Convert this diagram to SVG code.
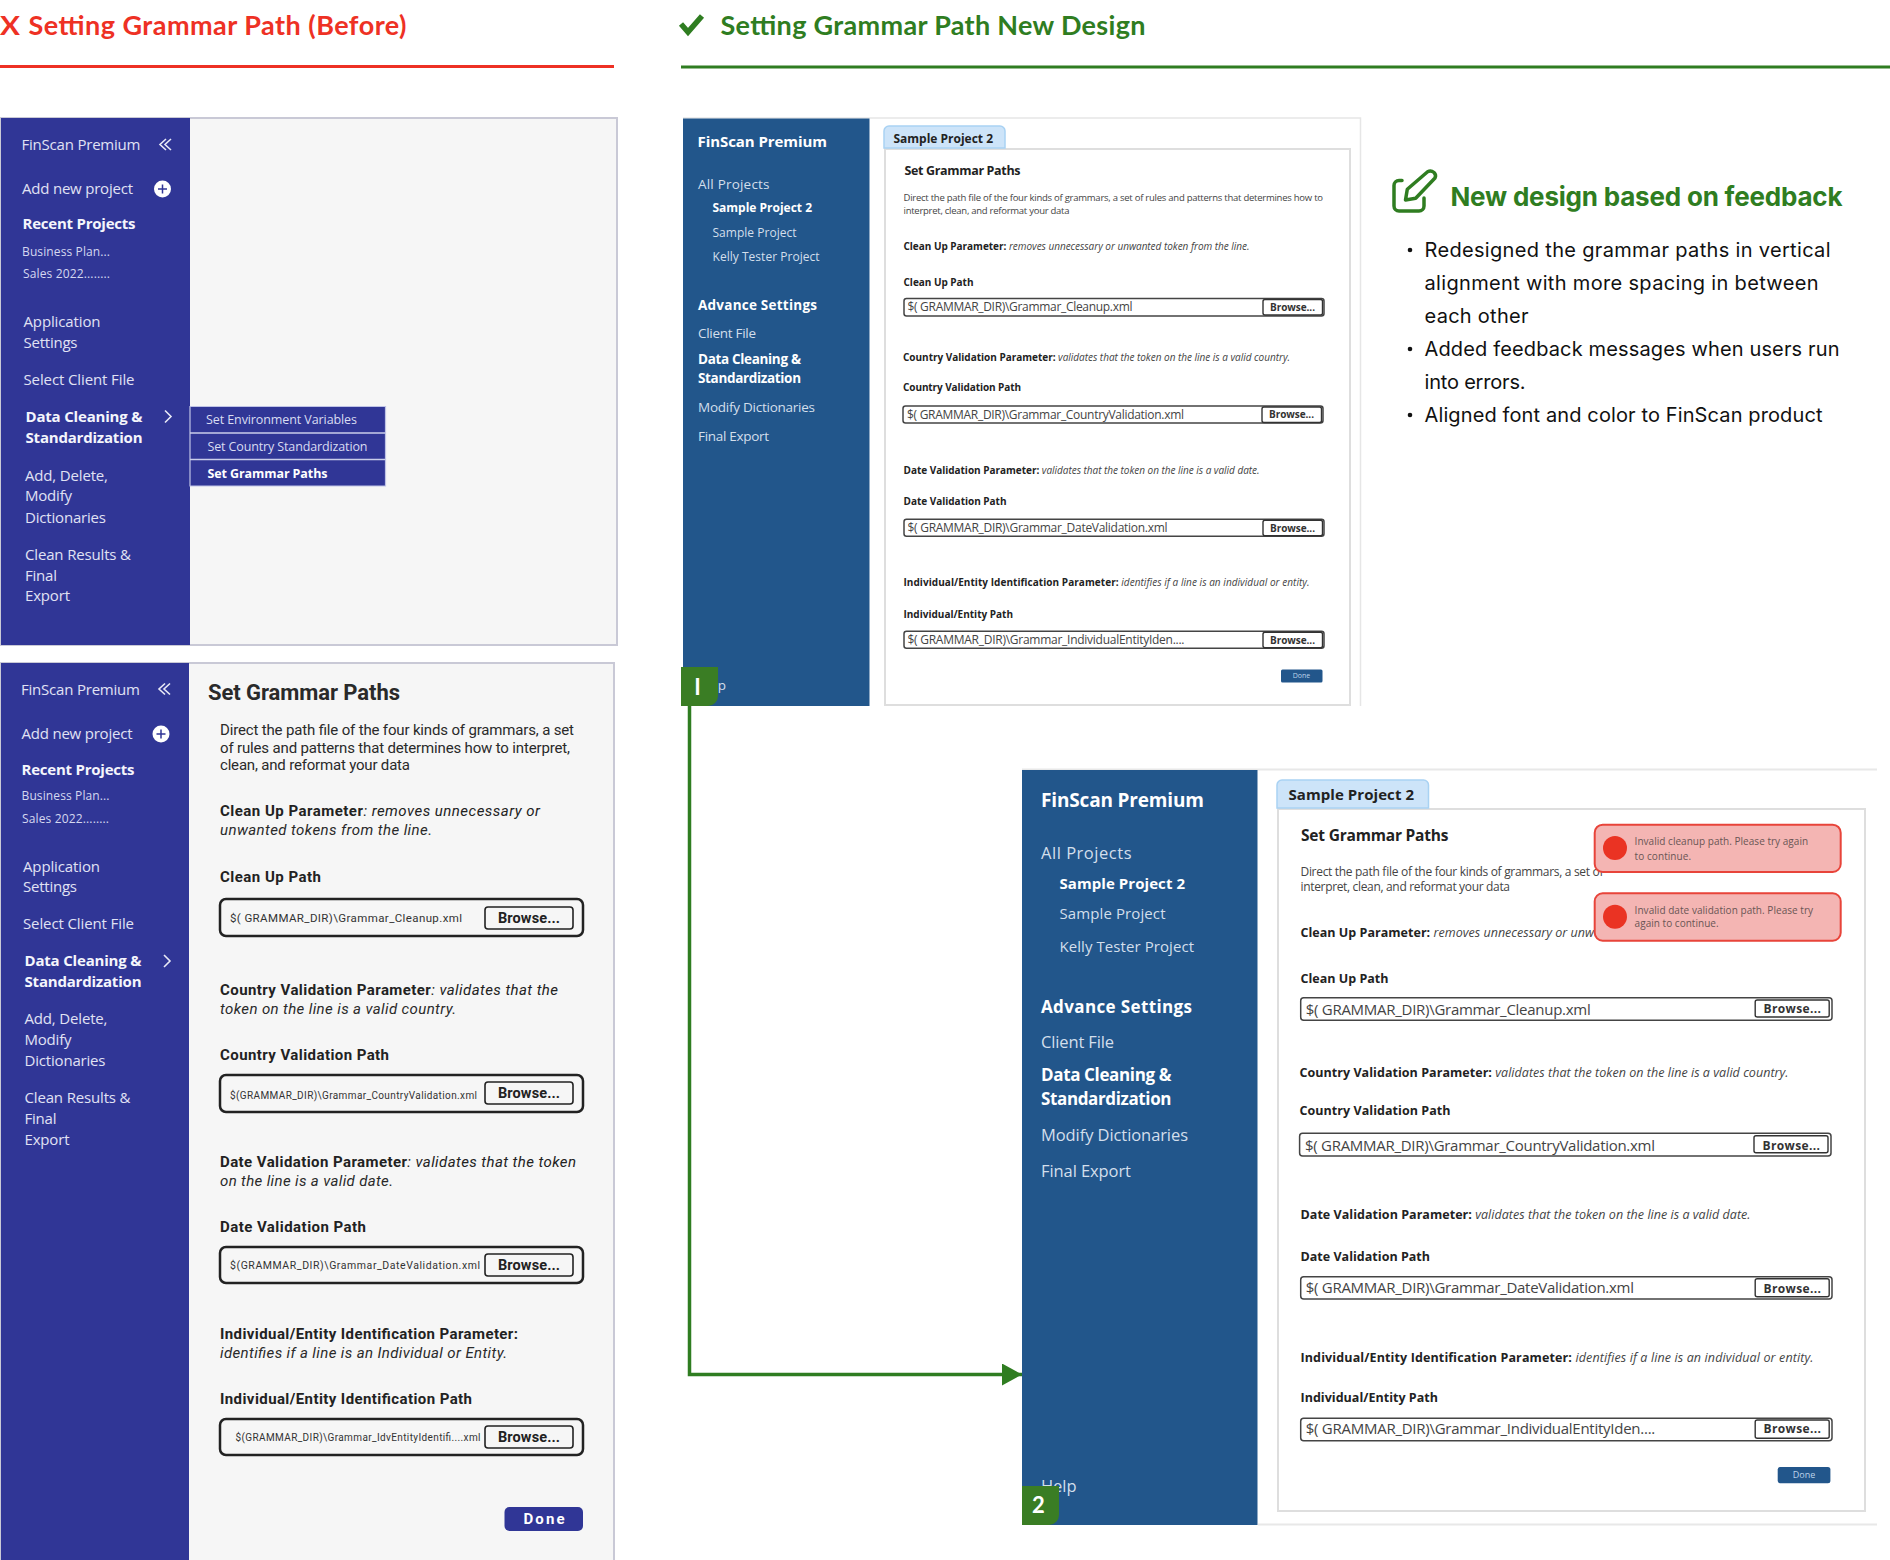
<svg xmlns="http://www.w3.org/2000/svg" width="1890" height="1560" viewBox="0 0 1890 1560">
<style>
text{font-family:"Open Sans","Noto Sans",sans-serif;white-space:pre}
.hd{font-family:Lato,"Open Sans",sans-serif;font-weight:700;font-size:27px}
.red{fill:#ee3124}.grn{fill:#2f7d21}
.pn{fill:#f6f6f6;stroke:#c9c9d6;stroke-width:2}
.sb1{fill:#303696}.sb2{fill:#22568b}
.n1{fill:#e0e2f4;font-size:15px}.n1b{fill:#f4f5fc;font-size:15px;font-weight:700}.n1s{fill:#d5d8f0;font-size:12px}
.sm{fill:#d9dcf2;font-size:12.5px}.smb{fill:#fff;font-size:12.5px;font-weight:700}
.ic{fill:none;stroke:#e8e9f6;stroke-width:1.6}
.r{font-family:Roboto,"Liberation Sans",sans-serif;fill:#2a2a2a;font-size:15px}
.rb{font-family:Roboto,"Liberation Sans",sans-serif;fill:#222;font-size:15px;font-weight:700}
.rh{font-family:Roboto,"Liberation Sans",sans-serif;fill:#2a2a2a;font-size:22px;font-weight:700}
.ri{font-style:italic;font-weight:400}
.bi{fill:#f6f6f6;stroke:#222;stroke-width:2.5}
.bb{fill:#f6f6f6;stroke:#222;stroke-width:1.6}
.bp{font-family:Roboto,"Liberation Sans",sans-serif;fill:#333;font-size:11.5px}
.bbt{font-family:Roboto,"Liberation Sans",sans-serif;fill:#222;font-size:14.5px;font-weight:700}
.tab{fill:#cde4f9;stroke:#a9d2f3;stroke-width:1.5}
.box{fill:#fff;stroke:#dedede;stroke-width:2}
.a1{fill:#fff;font-size:15px;font-weight:700}.a2{fill:#d3dfec;font-size:13.5px}.a3{fill:#fff;font-size:13.5px;font-weight:700}.a4{fill:#d3dfec;font-size:12px}.a5{fill:#fff;font-size:12px;font-weight:700}
.t1{fill:#222;font-size:12px;font-weight:700}
.d1h{fill:#222;font-size:12.5px;font-weight:700}
.d1{fill:#444;font-size:9.5px}.d1b{fill:#222;font-size:10px;font-weight:700}.it{font-style:italic;font-weight:400;fill:#444}
.fi{fill:#fff;stroke:#444;stroke-width:1.5}
.fb{fill:#fff;stroke:#333;stroke-width:1.4}
.fp{fill:#444;font-size:12px}
.fbt{fill:#333;font-size:10px;font-weight:700}
.dn{fill:#22568b}
.c1{fill:#fff;font-size:19px;font-weight:700}.c2{fill:#d3dfec;font-size:16.5px}.c3{fill:#fff;font-size:17px;font-weight:700}.c4{fill:#d3dfec;font-size:15px}.c5{fill:#fff;font-size:15px;font-weight:700}
.t2{fill:#222;font-size:15px;font-weight:700}
.e1h{fill:#222;font-size:15.5px;font-weight:700}
.e1{fill:#444;font-size:12px}.e1b{fill:#222;font-size:12.5px;font-weight:700}
.ep{fill:#444;font-size:15px}.ebt{fill:#333;font-size:12px;font-weight:700}
.err{fill:#f4b5b3;stroke:#e8443a;stroke-width:2}.erc{fill:#ea3323}.ert{fill:#6a5555;font-size:10px}
.bd{fill:#3a7d24}.bdt{font-family:Lato,"Open Sans",sans-serif;fill:#fff;font-weight:700;font-size:22px;text-anchor:middle}
.fh{font-family:Inter,"Open Sans",sans-serif;fill:#2f7d21;font-size:26px;font-weight:700}
.fl{font-family:Inter,"Open Sans",sans-serif;fill:#111;font-size:20px}
</style>
<defs>
<marker id="arrow" markerUnits="userSpaceOnUse" markerWidth="20" markerHeight="22" refX="20" refY="11" orient="auto"><path d="M0 0L20 11L0 22Z" fill="#2f7d21"/></marker>
</defs>

<g id="connectors">
<path d="M689.5 706V1374.5H1022" fill="none" stroke="#2f7d21" stroke-width="3.5" marker-end="url(#arrow)"/>
</g>

<g id="before-header">
<text class="hd red" x="0" y="35" textLength="20" lengthAdjust="spacingAndGlyphs">X</text>
<text class="hd red" x="28.5" y="35" textLength="378">Setting Grammar Path (Before)</text>
<rect class="red" x="0" y="65" width="614" height="3"/>
</g>

<g id="before-menu">
<rect class="pn" x="1" y="118" width="616" height="527"/>
<rect class="sb1" x="1" y="118" width="189" height="527"/>
<text class="n1" x="21.5" y="150" textLength="119">FinScan Premium</text>
<path class="ic" d="M166 139l-6 5.500 6 5.500M171 139l-6 5.500 6 5.500"/>
<text class="n1" x="22" y="194" textLength="111">Add new project</text>
<circle cx="162.500" cy="189" r="8.500" fill="#fff"/><path d="M158 189h9M162.500 184.500v9" stroke="#303696" stroke-width="1.500"/>
<text class="n1b" x="22.500" y="229" textLength="113">Recent Projects</text>
<text class="n1s" x="22" y="256" textLength="88">Business Plan...</text>
<text class="n1s" x="23" y="278" textLength="87">Sales 2022........</text>
<text class="n1" x="23.500" y="327" textLength="77">Application</text>
<text class="n1" x="23.500" y="347.500" textLength="54">Settings</text>
<text class="n1" x="23.500" y="385" textLength="111">Select Client File</text>
<text class="n1b" x="25.500" y="421.500" textLength="117">Data Cleaning &amp;</text>
<text class="n1b" x="25.500" y="443" textLength="117">Standardization</text>
<path class="ic" d="M165 410.500l6 6-6 6" stroke-width="1.800"/>
<text class="n1" x="25" y="480.500" textLength="83">Add, Delete,</text>
<text class="n1" x="25" y="501" textLength="47">Modify</text>
<text class="n1" x="25" y="522.500" textLength="81">Dictionaries</text>
<text class="n1" x="25" y="559.500" textLength="106">Clean Results &amp;</text>
<text class="n1" x="25" y="580.500" textLength="32">Final</text>
<text class="n1" x="25" y="601" textLength="45">Export</text>
<path class="sb1" d="M190 406.500H385.500V486H190Z" stroke="#bfc3e6" stroke-width="1.200"/>
<path d="M190 433H385.500M190 459.500H385.500" stroke="#c9cdea" stroke-width="1.500"/>
<text class="sm" x="206" y="424" textLength="151">Set Environment Variables</text>
<text class="sm" x="207.500" y="451" textLength="160">Set Country Standardization</text>
<text class="smb" x="207.500" y="478" textLength="120">Set Grammar Paths</text>
</g>

<g id="before-form" transform="translate(0,-1)">
<path class="pn" d="M1 1564V664H614V1564"/>
<rect class="sb1" x="1" y="664" width="188" height="900"/>
<text class="n1" x="21" y="696" textLength="119">FinScan Premium</text>
<path class="ic" d="M165 684.500l-6 5.500 6 5.500M170 684.500l-6 5.500 6 5.500"/>
<text class="n1" x="21.500" y="740" textLength="111">Add new project</text>
<circle cx="161" cy="735" r="8.500" fill="#fff"/><path d="M156.500 735h9M161 730.500v9" stroke="#303696" stroke-width="1.500"/>
<text class="n1b" x="21.500" y="775.500" textLength="113">Recent Projects</text>
<text class="n1s" x="21.500" y="801" textLength="88">Business Plan...</text>
<text class="n1s" x="22" y="823.500" textLength="87">Sales 2022........</text>
<text class="n1" x="23" y="873" textLength="77">Application</text>
<text class="n1" x="23" y="893" textLength="54">Settings</text>
<text class="n1" x="23" y="930" textLength="111">Select Client File</text>
<text class="n1b" x="24.500" y="967" textLength="117">Data Cleaning &amp;</text>
<text class="n1b" x="24.500" y="988" textLength="117">Standardization</text>
<path class="ic" d="M164 956l6 6-6 6" stroke-width="1.800"/>
<text class="n1" x="24.500" y="1025" textLength="83">Add, Delete,</text>
<text class="n1" x="24.500" y="1046" textLength="47">Modify</text>
<text class="n1" x="24.500" y="1067" textLength="81">Dictionaries</text>
<text class="n1" x="24.500" y="1104" textLength="106">Clean Results &amp;</text>
<text class="n1" x="24.500" y="1125" textLength="32">Final</text>
<text class="n1" x="24.500" y="1146" textLength="45">Export</text>
<text class="rh" x="208" y="700.500" textLength="192">Set Grammar Paths</text>
<text class="r" x="220" y="736" textLength="354">Direct the path file of the four kinds of grammars, a set</text>
<text class="r" x="220" y="754" textLength="350">of rules and patterns that determines how to interpret,</text>
<text class="r" x="220" y="771" textLength="190">clean, and reformat your data</text>
<text class="rb" x="220" y="817" textLength="320">Clean Up Parameter<tspan class="ri">: removes unnecessary or</tspan></text>
<text class="r ri" x="220" y="836" textLength="212">unwanted tokens from the line.</text>
<text class="rb" x="220" y="883" textLength="101">Clean Up Path</text>
<rect class="bi" x="220" y="900" width="363" height="37" rx="6"/>
<text class="bp" x="230" y="923" textLength="232">$( GRAMMAR_DIR)\Grammar_Cleanup.xml</text>
<rect class="bb" x="485" y="908" width="88" height="22" rx="3"/>
<text class="bbt" x="498" y="924" textLength="62">Browse...</text>
<text class="rb" x="220" y="996" textLength="338">Country Validation Parameter<tspan class="ri">: validates that the</tspan></text>
<text class="r ri" x="220" y="1015" textLength="236">token on the line is a valid country.</text>
<text class="rb" x="220" y="1061" textLength="169">Country Validation Path</text>
<rect class="bi" x="220" y="1076" width="363" height="37" rx="6"/>
<text class="bp" x="230" y="1100" style="font-size:10px" textLength="247">$(GRAMMAR_DIR)\Grammar_CountryValidation.xml</text>
<rect class="bb" x="485" y="1083" width="88" height="22" rx="3"/>
<text class="bbt" x="498" y="1099" textLength="62">Browse...</text>
<text class="rb" x="220" y="1168" textLength="356">Date Validation Parameter<tspan class="ri">: validates that the token</tspan></text>
<text class="r ri" x="220" y="1187" textLength="173">on the line is a valid date.</text>
<text class="rb" x="220" y="1233" textLength="146">Date Validation Path</text>
<rect class="bi" x="220" y="1248" width="363" height="36" rx="6"/>
<text class="bp" x="230" y="1270" style="font-size:10.5px" textLength="250">$(GRAMMAR_DIR)\Grammar_DateValidation.xml</text>
<rect class="bb" x="485" y="1255" width="88" height="22" rx="3"/>
<text class="bbt" x="498" y="1271" textLength="62">Browse...</text>
<text class="rb" x="220" y="1340" textLength="298">Individual/Entity Identification Parameter:</text>
<text class="r ri" x="220" y="1359" textLength="287">identifies if a line is an Individual or Entity.</text>
<text class="rb" x="220" y="1404.500" textLength="252">Individual/Entity Identification Path</text>
<rect class="bi" x="220" y="1420" width="363" height="36" rx="6"/>
<text class="bp" x="235.500" y="1441.500" style="font-size:10px" textLength="245">$(GRAMMAR_DIR)\Grammar_IdvEntityIdentifi....xml</text>
<rect class="bb" x="485" y="1427" width="88" height="22" rx="3"/>
<text class="bbt" x="498" y="1443" textLength="62">Browse...</text>
<rect class="sb1" x="504.500" y="1508" width="78.500" height="24" rx="5"/>
<text class="bbt" x="523.500" y="1525" textLength="41" style="fill:#fff;font-size:15px">Done</text>
</g>

<g id="new-header">
<path d="M681 24l7 8 14-16" fill="none" stroke="#2f7d21" stroke-width="5.500"/>
<text class="hd grn" x="720.500" y="35" textLength="425">Setting Grammar Path New Design</text>
<rect class="grn" x="681" y="65.500" width="1209" height="3"/>
</g>

<g id="design-1">
<path d="M683 118H1360.500V706" fill="none" stroke="#e6e6e6" stroke-width="1.500"/>
<rect class="sb2" x="683" y="118.500" width="186.500" height="587.500"/>
<text class="a1" x="697.500" y="147" textLength="129.500">FinScan Premium</text>
<text class="a2" x="698" y="189" textLength="71.500">All Projects</text>
<text class="a5" x="712.500" y="211.500" textLength="99.500">Sample Project 2</text>
<text class="a4" x="712.500" y="236.500" textLength="84">Sample Project</text>
<text class="a4" x="712.500" y="261" textLength="107">Kelly Tester Project</text>
<text class="a3" x="698" y="309.500" textLength="119">Advance Settings</text>
<text class="a2" x="698" y="337.500" textLength="58">Client File</text>
<text class="a3" x="698" y="364" textLength="103">Data Cleaning &amp;</text>
<text class="a3" x="698" y="383" textLength="103">Standardization</text>
<text class="a2" x="698" y="412" textLength="117">Modify Dictionaries</text>
<text class="a2" x="698" y="440.500" textLength="71">Final Export</text>
<text class="a2" x="698" y="690" textLength="28">Help</text>
<rect class="box" x="885" y="149" width="465" height="556"/>
<path class="tab" d="M884 148V131a5 5 0 0 1 5-5H1000a5 5 0 0 1 5 5V148Z"/>
<text class="t1" x="893.500" y="143" textLength="99.500">Sample Project 2</text>
<text class="d1h" x="904.500" y="175" textLength="116">Set Grammar Paths</text>
<text class="d1" x="903.500" y="200.500" textLength="419.500">Direct the path file of the four kinds of grammars, a set of rules and patterns that determines how to</text>
<text class="d1" x="903.500" y="214" textLength="166">interpret, clean, and reformat your data</text>
<text class="d1b" x="903.500" y="249.500" textLength="346">Clean Up Parameter: <tspan class="it">removes unnecessary or unwanted token from the line.</tspan></text>
<text class="d1b" x="903.500" y="285.500" textLength="70">Clean Up Path</text>
<rect class="fi" x="904" y="298.500" width="420" height="17.500" rx="2.500"/>
<text class="fp" x="907.500" y="311.300" textLength="225">$( GRAMMAR_DIR)\Grammar_Cleanup.xml</text>
<rect class="fb" x="1263" y="299.500" width="59.500" height="15.500" rx="2"/>
<text class="fbt" x="1270" y="310.500" textLength="45">Browse...</text>
<text class="d1b" x="903" y="361" textLength="387">Country Validation Parameter: <tspan class="it">validates that the token on the line is a valid country.</tspan></text>
<text class="d1b" x="903" y="390.500" textLength="118">Country Validation Path</text>
<rect class="fi" x="903" y="406" width="420" height="17" rx="2.500"/>
<text class="fp" x="907" y="418.500" textLength="277">$( GRAMMAR_DIR)\Grammar_CountryValidation.xml</text>
<rect class="fb" x="1262" y="407" width="59.500" height="15.500" rx="2"/>
<text class="fbt" x="1269" y="418" textLength="45">Browse...</text>
<text class="d1b" x="903.500" y="473.500" textLength="356">Date Validation Parameter: <tspan class="it">validates that the token on the line is a valid date.</tspan></text>
<text class="d1b" x="903.500" y="505" textLength="103">Date Validation Path</text>
<rect class="fi" x="904" y="519.300" width="420" height="17" rx="2.500"/>
<text class="fp" x="907.500" y="532" textLength="260">$( GRAMMAR_DIR)\Grammar_DateValidation.xml</text>
<rect class="fb" x="1263" y="520.300" width="59.500" height="15.500" rx="2"/>
<text class="fbt" x="1270" y="531.500" textLength="45">Browse...</text>
<text class="d1b" x="903.500" y="586" textLength="406">Individual/Entity Identification Parameter: <tspan class="it">identifies if a line is an individual or entity.</tspan></text>
<text class="d1b" x="903.500" y="618" textLength="109.500">Individual/Entity Path</text>
<rect class="fi" x="904" y="631.300" width="420" height="17" rx="2.500"/>
<text class="fp" x="907.500" y="644" textLength="277">$( GRAMMAR_DIR)\Grammar_IndividualEntityIden....</text>
<rect class="fb" x="1263" y="632.300" width="59.500" height="15.500" rx="2"/>
<text class="fbt" x="1270" y="643.500" textLength="45">Browse...</text>
<rect class="dn" x="1281" y="669.500" width="41.500" height="13" rx="1.500"/>
<text x="1301.500" y="678" text-anchor="middle" style="fill:#bcd3ea;font-size:7px">Done</text>
<path class="bd" d="M681 667H718V696a10 10 0 0 1-10 10H681Z"/>
<text class="bdt" x="697.500" y="695">I</text>
</g>

<g id="feedback">
<path d="M1402 180.500H1399a5 5 0 0 0-5 5V206a5 5 0 0 0 5 5H1419a5 5 0 0 0 5-5V198" fill="none" stroke="#2f7d21" stroke-width="3.500" stroke-linecap="round"/>
<path d="M1405.500 200L1407.300 189.300L1427.600 171.700Q1431 170 1434 172.500Q1436.500 175 1435 178L1415.700 198.300Z" fill="none" stroke="#2f7d21" stroke-width="3.500" stroke-linejoin="round"/>
<text class="fh" x="1450.500" y="206" textLength="392">New design based on feedback</text>
<circle cx="1410" cy="250" r="2.300" fill="#111"/>
<text class="fl" x="1424.500" y="256.700" textLength="406">Redesigned the grammar paths in vertical</text>
<text class="fl" x="1424.500" y="289.700" textLength="394">alignment with more spacing in between</text>
<text class="fl" x="1424.500" y="322.700" textLength="104">each other</text>
<circle cx="1410" cy="349" r="2.300" fill="#111"/>
<text class="fl" x="1424.500" y="355.700" textLength="415">Added feedback messages when users run</text>
<text class="fl" x="1424.500" y="389" textLength="101">into errors.</text>
<circle cx="1410" cy="415" r="2.300" fill="#111"/>
<text class="fl" x="1424.500" y="421.700" textLength="398">Aligned font and color to FinScan product</text>
</g>

<g id="design-2">
<path d="M1022 769.500H1877M1258 1524.500H1877" stroke="#e8e8e8" stroke-width="2" fill="none"/>
<rect class="sb2" x="1022" y="770" width="235.500" height="755"/>
<text class="c1" x="1041" y="807" textLength="163">FinScan Premium</text>
<text class="c2" x="1041" y="859" textLength="90.500">All Projects</text>
<text class="c5" x="1059.500" y="888.700" textLength="125.500">Sample Project 2</text>
<text class="c4" x="1059.500" y="919" textLength="106">Sample Project</text>
<text class="c4" x="1059.500" y="951.700" textLength="134.500">Kelly Tester Project</text>
<text class="c3" x="1041" y="1013" textLength="151">Advance Settings</text>
<text class="c2" x="1041" y="1047.700" textLength="73">Client File</text>
<text class="c3" x="1041" y="1080.700" textLength="130.500">Data Cleaning &amp;</text>
<text class="c3" x="1041" y="1105" textLength="130.500">Standardization</text>
<text class="c2" x="1041" y="1141" textLength="147">Modify Dictionaries</text>
<text class="c2" x="1041" y="1177" textLength="90">Final Export</text>
<text class="c2" x="1041" y="1491.700" textLength="35.500">Help</text>
<rect class="box" x="1278" y="809" width="587" height="702"/>
<path class="tab" d="M1277 808V785a5 5 0 0 1 5-5H1423.500a5 5 0 0 1 5 5V808Z"/>
<text class="t2" x="1288.500" y="800" textLength="125.500">Sample Project 2</text>
<text class="e1h" x="1301" y="841" textLength="147.500">Set Grammar Paths</text>
<text class="e1" x="1300.500" y="875.700" textLength="303">Direct the path file of the four kinds of grammars, a set of</text>
<text class="e1" x="1300.500" y="891.300" textLength="209.500">interpret, clean, and reformat your data</text>
<text class="e1b" x="1300.500" y="936.700" textLength="293.500">Clean Up Parameter: <tspan class="it">removes unnecessary or unw</tspan></text>
<text class="e1b" x="1300.500" y="983.300" textLength="88">Clean Up Path</text>
<rect class="fi" x="1300.700" y="997.700" width="531.300" height="22.600" rx="3"/>
<text class="ep" x="1305.700" y="1015" textLength="285">$( GRAMMAR_DIR)\Grammar_Cleanup.xml</text>
<rect class="fb" x="1755.200" y="1000" width="74" height="17" rx="2"/>
<text class="ebt" x="1763.500" y="1013" textLength="57.500">Browse...</text>
<text class="e1b" x="1299.500" y="1076.700" textLength="489">Country Validation Parameter: <tspan class="it">validates that the token on the line is a valid country.</tspan></text>
<text class="e1b" x="1299.500" y="1115" textLength="151">Country Validation Path</text>
<rect class="fi" x="1299.600" y="1133.300" width="531.400" height="22.700" rx="3"/>
<text class="ep" x="1305" y="1151" textLength="350">$( GRAMMAR_DIR)\Grammar_CountryValidation.xml</text>
<rect class="fb" x="1754" y="1135.700" width="74" height="17" rx="2"/>
<text class="ebt" x="1762.500" y="1150" textLength="57.500">Browse...</text>
<text class="e1b" x="1300.500" y="1219.300" textLength="450">Date Validation Parameter: <tspan class="it">validates that the token on the line is a valid date.</tspan></text>
<text class="e1b" x="1300.500" y="1260.700" textLength="129.500">Date Validation Path</text>
<rect class="fi" x="1300.700" y="1276.700" width="531.300" height="22.300" rx="3"/>
<text class="ep" x="1305.700" y="1292.700" textLength="328.300">$( GRAMMAR_DIR)\Grammar_DateValidation.xml</text>
<rect class="fb" x="1755.200" y="1278.700" width="74" height="18" rx="2"/>
<text class="ebt" x="1763.500" y="1292.700" textLength="57.500">Browse...</text>
<text class="e1b" x="1300.500" y="1361.700" textLength="513">Individual/Entity Identification Parameter: <tspan class="it">identifies if a line is an individual or entity.</tspan></text>
<text class="e1b" x="1300.500" y="1402.300" textLength="137.500">Individual/Entity Path</text>
<rect class="fi" x="1300.700" y="1418.300" width="531.300" height="22.400" rx="3"/>
<text class="ep" x="1305.700" y="1434.300" textLength="349.600">$( GRAMMAR_DIR)\Grammar_IndividualEntityIden....</text>
<rect class="fb" x="1755.200" y="1420" width="74" height="18.300" rx="2"/>
<text class="ebt" x="1763.500" y="1433.300" textLength="57.500">Browse...</text>
<rect class="dn" x="1777.700" y="1467" width="52.700" height="16.300" rx="2.500"/>
<text x="1804" y="1478" text-anchor="middle" style="fill:#bcd3ea;font-size:9px">Done</text>
<rect class="err" x="1594.700" y="824.700" width="246" height="47.300" rx="8"/>
<circle class="erc" cx="1615" cy="848" r="12"/>
<text class="ert" x="1634.600" y="845" textLength="173.500">Invalid cleanup path. Please try again</text>
<text class="ert" x="1634.600" y="859.700" textLength="56.500">to continue.</text>
<rect class="err" x="1594.700" y="893.300" width="246" height="47.400" rx="8"/>
<circle class="erc" cx="1615" cy="916.700" r="12"/>
<text class="ert" x="1634.600" y="913.700" textLength="178.500">Invalid date validation path. Please try</text>
<text class="ert" x="1634.600" y="927.300" textLength="84">again to continue.</text>
<path class="bd" d="M1022 1486H1059V1515a10 10 0 0 1-10 10H1022Z"/>
<text class="bdt" x="1038.500" y="1513">2</text>
</g>
</svg>
